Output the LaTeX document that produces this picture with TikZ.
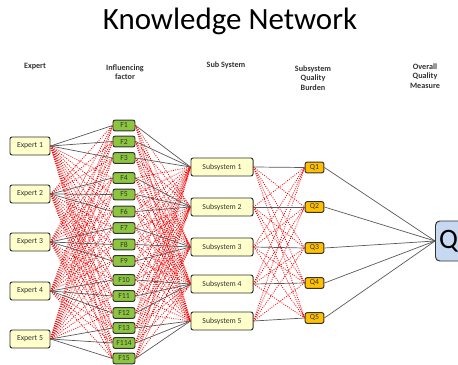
\documentclass[tikz,border=0pt]{standalone}
\usepackage{fontspec}
\setmainfont{Carlito}
\usetikzlibrary{positioning}
\definecolor{boxyellow}{HTML}{FFFFCC}
\definecolor{facgreen}{HTML}{8CC63F}
\definecolor{qorange}{HTML}{FFC000}
\definecolor{qblue}{HTML}{C6D9F1}

\begin{document}
\begin{tikzpicture}[x=0.025cm, y=-0.025cm,
    every node/.style={font=\fontsize{5.5}{6}\selectfont, text=black!80},
    box/.style={draw=black!80, line width=0.7pt, rounded corners=1.5pt, inner sep=0pt},
    expbox/.style={box, fill=boxyellow, minimum width=1cm, minimum height=0.45cm},
    facbox/.style={box, fill=facgreen, minimum width=0.55cm, minimum height=0.27cm},
    subbox/.style={box, fill=boxyellow, minimum width=1.55cm, minimum height=0.45cm},
    qbox/.style={box, fill=qorange, minimum width=0.47cm, minimum height=0.27cm},
    head/.style={font=\fontsize{5.8}{6.8}\selectfont\bfseries, align=center},
    link/.style={black!65, line width=0.5pt},
    cross/.style={red, densely dotted, line width=0.6pt}]
        \useasboundingbox (0,0) rectangle (458,365);

        \node[font=\fontsize{22}{24}\selectfont, text=black] (title) at (230,21) {Knowledge Network};

        \node[head] (hexp) at (35,67) {Expert};
        \node[head] (hfac) at (125,72) {Influencing\\factor};
        \node[head] (hsub) at (226,65) {Sub System};
        \node[head] (hq) at (313,78) {Subsystem\\Quality\\Burden};
        \node[head] (hall) at (425,76) {Overall\\Quality\\Measure};

        \foreach \n/\y in {1/146, 2/194, 3/242, 4/291, 5/339}
            \node[expbox] (e\n) at (30,\y) {Expert \n};

        \foreach \n/\y/\t in {1/125.5/F1, 2/141.5/F2, 3/158/F3, 4/178/F4, 5/194.5/F5,
                6/211.5/F6, 7/228/F7, 8/244.5/F8, 9/261/F9, 10/280/F10,
                11/296/F11, 12/313/F12, 13/328/F13, 14/343/F114, 15/358.5/F15}
            \node[facbox] (f\n) at (124,\y) {\t};

        \foreach \n/\y in {1/167, 2/207, 3/247, 4/284, 5/321}
            \node[subbox] (s\n) at (222,\y) {Subsystem \n};

        \foreach \n/\y in {1/167.5, 2/207, 3/248, 4/283, 5/318}
            \node[qbox] (q\n) at (314.5,\y) {Q\n};

        \node[box, fill=qblue, rounded corners=3pt, inner xsep=2.5pt, minimum height=1cm,
            anchor=west, font=\fontsize{20}{22}\selectfont, text=black] (qall) at (435,241) {Q\phantom{l}};

        % dotted cross links
        \foreach \e in {1,...,5}
            \foreach \f in {1,...,15} {
                \pgfmathtruncatemacro{\g}{(\f+2)/3}
                \ifnum\g=\e\else
                    \draw[cross] (e\e.east) -- (f\f.west);
                    \draw[cross] (f\f.east) -- (s\e.west);
                \fi
            }
        \foreach \s in {1,...,5}
            \foreach \q in {1,...,5} {
                \ifnum\s=\q\else \draw[cross] (s\s.east) -- (q\q.west); \fi
            }

        % solid links
        \foreach \f in {1,...,15} {
            \pgfmathtruncatemacro{\g}{(\f+2)/3}
            \draw[link] (e\g.east) -- (f\f.west);
            \draw[link] (f\f.east) -- (s\g.west);
        }
        \foreach \s in {1,...,5} {
            \draw[link] (s\s.east) -- (q\s.west);
            \draw[link] (q\s.east) -- (qall.west);
        }
      \end{tikzpicture}
\end{document}
